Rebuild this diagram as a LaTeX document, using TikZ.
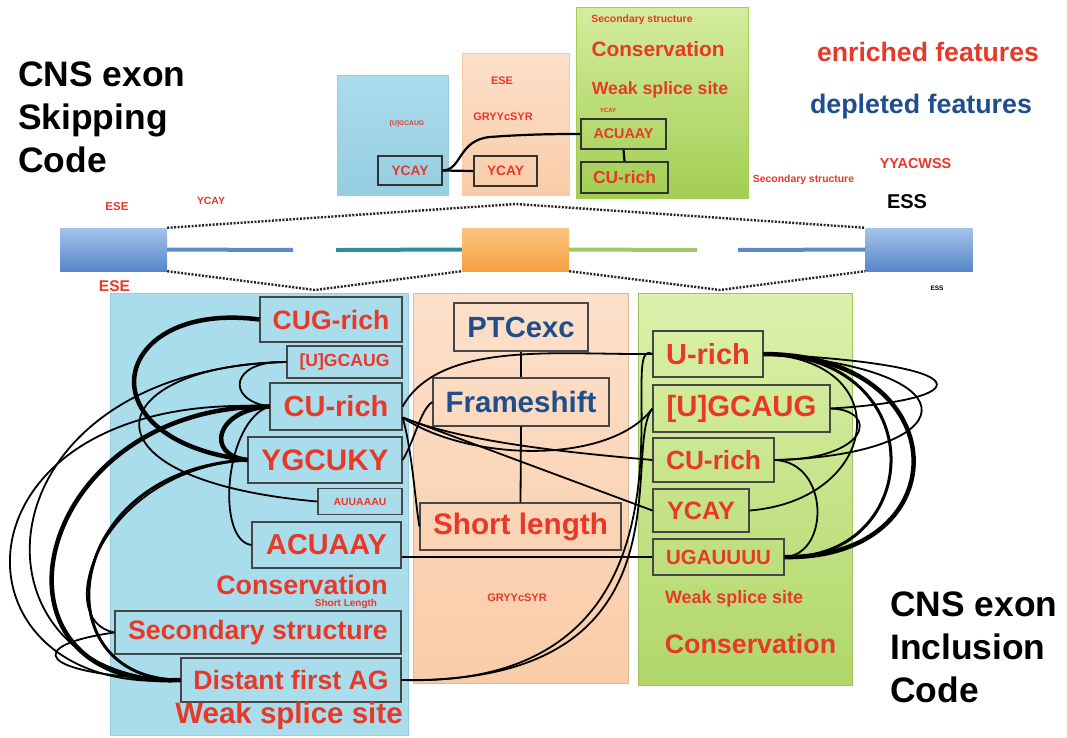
\documentclass[tikz,border=0pt]{standalone}
\usepackage{fontspec}
\setmainfont{Liberation Sans}
\usetikzlibrary{calc}
\definecolor{myred}{RGB}{232,56,40}
\definecolor{myblue}{RGB}{31,78,140}
\definecolor{boxgray}{RGB}{70,70,70}
\definecolor{pblue}{RGB}{170,221,236}
\definecolor{pblueb}{RGB}{150,205,225}
\definecolor{por1}{RGB}{252,224,202}
\definecolor{por2}{RGB}{249,204,168}
\definecolor{pgr1}{RGB}{220,241,172}
\definecolor{pgr2}{RGB}{176,215,104}
\definecolor{tgr1}{RGB}{212,237,158}
\definecolor{tgr2}{RGB}{162,206,82}
\definecolor{ex1}{RGB}{165,195,235}
\definecolor{ex2}{RGB}{85,135,200}
\definecolor{eo1}{RGB}{251,196,128}
\definecolor{eo2}{RGB}{245,160,66}
\definecolor{inblue}{RGB}{90,140,200}
\definecolor{inteal}{RGB}{50,140,160}
\definecolor{ingreen}{RGB}{160,200,100}
\newcommand\myfs[1]{\fontsize{#1}{#1}\selectfont\bfseries}
\tikzset{
  bx/.style={draw=boxgray, line width=1.2pt, inner sep=0pt, text=myred},
  tbx/.style={draw=black!80, line width=1.6pt, inner sep=0pt, text=myred},
  lab/.style={inner sep=0pt, text=myred},
  lk/.style={line width=1.8pt},
  lkm/.style={line width=3pt},
  lkt/.style={line width=4.5pt},
  tl/.style={line width=2.2pt},
  dots/.style={line width=2.4pt, dash pattern=on 2pt off 1.5pt, black!85},
  exonb/.style={inner sep=0pt, minimum width=107, minimum height=43, top color=ex1, bottom color=ex2},
  exono/.style={inner sep=0pt, minimum width=107, minimum height=43, top color=eo1, bottom color=eo2},
  intr/.style={line width=4pt}
}
\begin{document}
\begin{tikzpicture}[x=1pt,y=-1pt]
\useasboundingbox (0,0) rectangle (1067,737);
\fill[white] (0,0) rectangle (1067,737);

% ---------- top mini diagram ----------
\shade[top color=pblue, bottom color=pblueb, draw=pblueb] (337,75) rectangle (448,195);
\shade[top color=por1, bottom color=por2, draw=por2] (462,53) rectangle (569,195);
\shade[top color=tgr1, bottom color=tgr2, draw=tgr2] (576,7) rectangle (748,198);

\node[lab, font=\myfs{6.7}] (tl1) at (407,124) {[U]GCAUG};
\node[lab, font=\myfs{11}] (tl2) at (502,81) {ESE};
\node[lab, font=\myfs{11}] (tl3) at (503,117) {GRYYcSYR};
\node[lab, font=\myfs{10.4}] (tl4) at (642,20) {Secondary structure};
\node[lab, font=\myfs{20.8}] (tl5) at (658,49) {Conservation};
\node[lab, font=\myfs{17.7}] (tl6) at (660,90) {Weak splice site};
\node[lab, font=\myfs{6}] (tl7) at (608,110) {YCAY};

\node[tbx, minimum width=64, minimum height=29, font=\myfs{13.7}] (ty1) at (410,170.5) {YCAY};
\node[tbx, minimum width=63, minimum height=30, font=\myfs{13.7}] (ty2) at (505.5,171) {YCAY};
\node[tbx, minimum width=85, minimum height=30, font=\myfs{14.3}] (tacu) at (623.5,134) {ACUAAY};
\node[tbx, minimum width=87, minimum height=31, font=\myfs{17.4}] (tcu) at (624.5,177.5) {CU-rich};

\draw[tl] (ty1.east) -- (ty2.west);
\draw[tl] (ty1.east) .. controls (462,170) and (458,140) .. (490,137) .. controls (530,134) and (560,134) .. (tacu.west);
\draw[tl] (tacu.south) -- (tcu.north);

% ---------- titles / legend ----------
\node[anchor=north west, inner sep=0pt, align=left, font=\fontsize{35.4}{43}\selectfont\bfseries] (skip) at (18,62) {CNS exon\\Skipping\\Code};
\node[anchor=north west, inner sep=0pt, align=left, font=\fontsize{35.4}{43}\selectfont\bfseries] (incl) at (890,592) {CNS exon\\Inclusion\\Code};
\node[lab, font=\myfs{26.6}] (enr) at (928,52) {enriched features};
\node[lab, text=myblue, font=\myfs{26.8}] (dep) at (921,107) {depleted features};
\node[lab, font=\myfs{14.4}] (yya) at (915.5,164) {YYACWSS};
\node[lab, font=\myfs{10.4}] (ssr) at (803.5,180) {Secondary structure};
\node[lab, text=black, font=\myfs{20}] (ess) at (907,202) {ESS};

% ---------- gene bar ----------
\node[lab, font=\myfs{11.5}] (g1) at (117,207) {ESE};
\node[lab, font=\myfs{10.4}] (g2) at (211,201) {YCAY};
\node[lab, font=\myfs{15.5}] (g3) at (114.5,286) {ESE};
\node[lab, text=black, font=\myfs{6.5}] (g4) at (937,288) {ESS};

\node[exonb] (e1) at (113.5,249.5) {};
\node[exono] (e2) at (515.5,249.5) {};
\node[exonb] (e3) at (919,249.5) {};
\coordinate (i1) at (293,250);
\coordinate (i2) at (336,250);
\coordinate (i3) at (697,250);
\coordinate (i4) at (738,250);
\draw[intr, inblue] (e1.east) -- (i1);
\draw[intr, inteal] (i2) -- (e2.west);
\draw[intr, ingreen] (e2.east) -- (i3);
\draw[intr, inblue] (i4) -- (e3.west);
\coordinate (dt) at (516,204);
\coordinate (db1) at (315,290);
\coordinate (db2) at (720,290);
\draw[dots] (e1.north east) -- (dt) -- (e3.north west);
\draw[dots] (e1.south east) -- (db1) -- (e2.south west);
\draw[dots] (e2.south east) -- (db2) -- (e3.south west);

% ---------- lower panels ----------
\fill[pblue] (110,293) rectangle (408,735);
\draw[pblueb, line width=1pt] (110,293) rectangle (408,735);
\shade[top color=por1, bottom color=por2] (413,293) rectangle (628,683);
\draw[por2!90!black, line width=0.8pt] (413,293) rectangle (628,683);
\shade[top color=pgr1, bottom color=pgr2] (638,293) rectangle (852,685);
\draw[pgr2!90!black, line width=0.8pt] (638,293) rectangle (852,685);

% blue panel nodes
\node[bx, minimum width=142, minimum height=45, font=\myfs{26.6}] (cug) at (331,319.5) {CUG-rich};
\node[bx, minimum width=115, minimum height=32, font=\myfs{17.6}] (ugb) at (344.5,362) {[U]GCAUG};
\node[bx, minimum width=132, minimum height=47, font=\myfs{29}] (cub) at (336,406.5) {CU-rich};
\node[bx, minimum width=154, minimum height=46, font=\myfs{29.7}] (ygc) at (325,460) {YGCUKY};
\node[bx, minimum width=84, minimum height=26, font=\myfs{10.4}] (auu) at (360,501.5) {AUUAAAU};
\node[bx, minimum width=149, minimum height=46, font=\myfs{28.8}] (acb) at (326.5,545) {ACUAAY};
\node[lab, font=\myfs{26.8}] (cons1) at (302,585) {Conservation};
\node[lab, font=\myfs{10}] (shl) at (346,604) {Short Length};
\node[bx, minimum width=286, minimum height=43, font=\myfs{26.7}] (sec) at (258,632.5) {Secondary structure};
\node[bx, minimum width=220, minimum height=44, font=\myfs{26.6}] (dis) at (291,680) {Distant first AG};
\node[lab, font=\myfs{29.5}] (wss1) at (289,716) {Weak splice site};

% orange panel nodes
\node[bx, text=myblue, minimum width=134, minimum height=48, font=\myfs{29.2}] (ptc) at (521,327) {PTCexc};
\node[bx, text=myblue, minimum width=176, minimum height=48, font=\myfs{29.5}] (fra) at (521,402) {Frameshift};
\node[bx, minimum width=201, minimum height=47, font=\myfs{29.7}] (sho) at (520.5,526.5) {Short length};
\node[lab, font=\myfs{11}] (gry) at (517,598) {GRYYcSYR};

% green panel nodes
\node[bx, minimum width=110, minimum height=46, font=\myfs{29}] (urich) at (708,354) {U-rich};
\node[bx, minimum width=177, minimum height=47, font=\myfs{29.3}] (ugg) at (741.5,408.5) {[U]GCAUG};
\node[bx, minimum width=121, minimum height=44, font=\myfs{26.3}] (cug2) at (713.5,460) {CU-rich};
\node[bx, minimum width=96, minimum height=43, font=\myfs{25.2}] (ycay) at (701,510.5) {YCAY};
\node[bx, minimum width=131, minimum height=36, font=\myfs{20.5}] (uga) at (718.5,557) {UGAUUUU};
\node[lab, font=\myfs{17.9}] (wss2) at (734,599) {Weak splice site};
\node[lab, font=\myfs{26.8}] (cons2) at (750.5,644) {Conservation};

% ---------- connectors ----------
\draw[lk] (ptc.south) -- (fra.north);
\draw[lk] (fra.south) -- (sho.north);

% blue, left side
\draw[lkt] (cug.west) .. controls (110,300) and (80,440) .. (ygc.west);
\draw[lk] (ugb.west) .. controls (230,360) and (225,400) .. (cub.west);
\draw[lk] (ugb.west) .. controls (-30,370) and (-40,680) .. (dis.west);
\draw[lk] (ugb.west) .. controls (100,365) and (70,480) .. (auu.west);
\draw[lkt] (cub.west) .. controls (30,405) and (-30,690) .. (dis.west);
\draw[lkt] (cub.west) .. controls (215,410) and (205,455) .. (ygc.west);
\draw[lk] (cub.west) .. controls (225,420) and (215,540) .. (acb.west);
\draw[lk] (cub.west) .. controls (-60,390) and (-60,700) .. (dis.west);
\draw[lkm] (ygc.west) .. controls (60,470) and (40,680) .. (dis.west);
\draw[lk] (ygc.west) .. controls (100,470) and (50,620) .. (sec.west);
\draw[lk] (sec.west) .. controls (25,645) and (30,675) .. (dis.west);

% cross-panel
\coordinate (cubE) at ($(cub.east)+(0,11)$);
\draw[lk] (cub.east) .. controls (440,340) and (560,355) .. (urich.west);
\draw[lk] (cubE) .. controls (470,445) and (600,455) .. (cug2.west);
\draw[lk] (cubE) -- (ycay.west);
\draw[lk] (cubE) .. controls (470,462) and (610,465) .. (ugg.west);
\draw[lk] (cubE) .. controls (412,450) and (415,500) .. (sho.west);
\draw[lk] (ygc.east) .. controls (415,440) and (420,410) .. (fra.west);
\draw[lk] (acb.east |- uga.west) -- (uga.west);
\draw[lk] (dis.east) .. controls (730,690) and (610,330) .. (urich.west);
\draw[lk] (dis.east) .. controls (700,685) and (620,450) .. (ugg.west);

% green, right side
\draw[lkt] (urich.east) .. controls (960,355) and (960,560) .. (uga.east);
\draw[lkm] (urich.east) .. controls (935,355) and (925,560) .. (uga.east);
\draw[lk] (urich.east) .. controls (990,365) and (975,400) .. (ugg.east);
\draw[lk] (urich.east) .. controls (985,370) and (960,455) .. (cug2.east);
\draw[lk] (urich.east) .. controls (900,360) and (880,500) .. (ycay.east);
\draw[lk] (ugg.east) .. controls (880,410) and (870,460) .. (cug2.east);
\draw[lk] (cug2.east) .. controls (830,462) and (830,555) .. (uga.east);
\end{tikzpicture}
\end{document}
